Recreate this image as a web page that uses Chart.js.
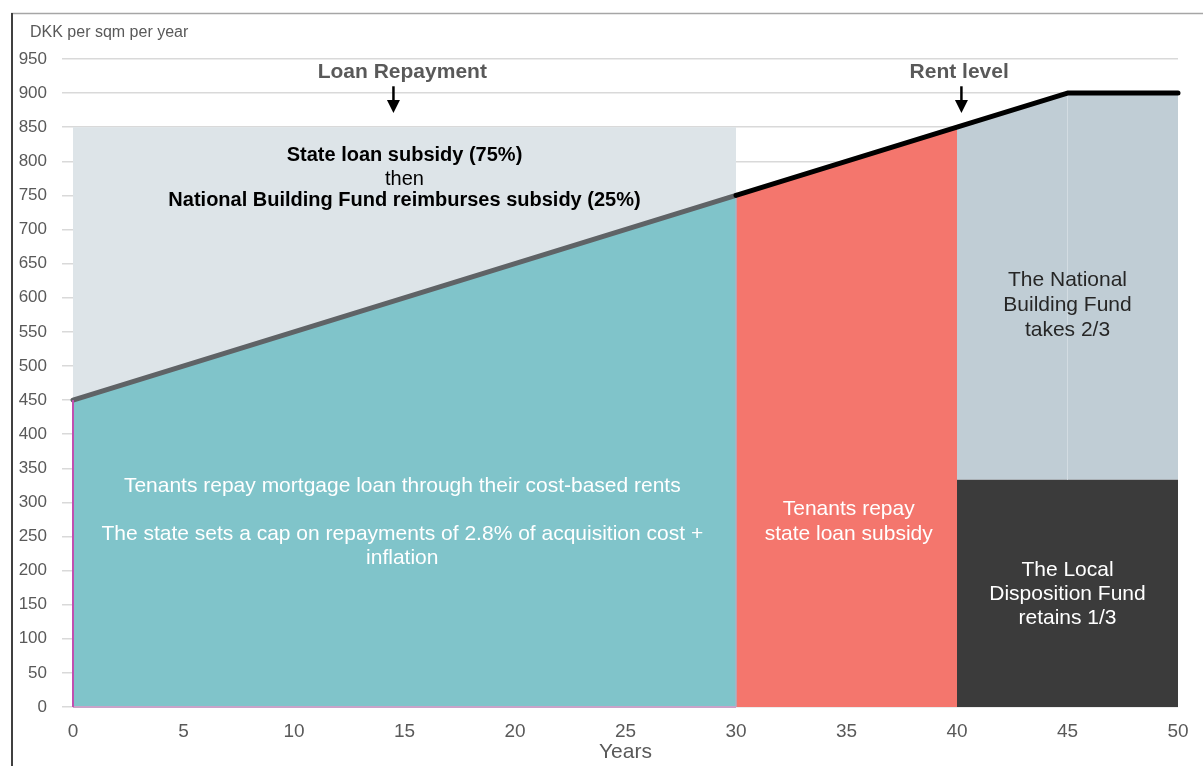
<!DOCTYPE html>
<html>
<head>
<meta charset="utf-8">
<script src="https://cdn.jsdelivr.net/npm/chart.js@4"></script>
<style>
  html, body { margin: 0; padding: 0; background: #fff; }
  #wrap { width: 1203px; height: 766px; position: relative; }
</style>
</head>
<body>
<div id="wrap"><canvas id="chart" width="1203" height="766"></canvas></div>
<script>
// data
const loanYears = [0, 30];
const loanRepayment = [450, 750];
const rentYears = [30, 40, 45, 50];
const rentLevel = [750, 850, 900, 900];
const subsidyYears = [0, 30];
const subsidyLevel = [850, 850];
const stateRepayYears = [30, 40];
const stateRepay = [750, 850];
const fundYears = [40, 45, 50];
const fundLevel = [850, 900, 900];
const localYears = [40, 50];
const localShare = [333, 333];
const yMin = 0, yMax = 950, yStep = 50;
const xMin = 0, xMax = 50, xStep = 5;

const pts = (xs, ys) => xs.map((x, i) => ({ x: x, y: ys[i] }));
const FONT = "'Liberation Sans', Arial, sans-serif";

const labels = [
  { x: 14.9, y: 931, text: 'Loan Repayment', font: 'bold 21px', color: '#595959' },
  { x: 40.1, y: 931, text: 'Rent level', font: 'bold 21px', color: '#595959' },
  { x: 15, y: 808, text: 'State loan subsidy (75%)', font: 'bold 20px', color: '#000' },
  { x: 15, y: 774, text: 'then', font: '20px', color: '#000' },
  { x: 15, y: 742, text: 'National Building Fund reimburses subsidy (25%)', font: 'bold 20px', color: '#000' },
  { x: 14.9, y: 324, text: 'Tenants repay mortgage loan through their cost-based rents', font: '21px', color: '#fff' },
  { x: 14.9, y: 254, text: 'The state sets a cap on repayments of 2.8% of acquisition cost +', font: '21px', color: '#fff' },
  { x: 14.9, y: 218, text: 'inflation', font: '21px', color: '#fff' },
  { x: 35.1, y: 290, text: 'Tenants repay', font: '21px', color: '#fff' },
  { x: 35.1, y: 254, text: 'state loan subsidy', font: '21px', color: '#fff' },
  { x: 45, y: 625, text: 'The National', font: '21px', color: '#262626' },
  { x: 45, y: 589, text: 'Building Fund', font: '21px', color: '#262626' },
  { x: 45, y: 553, text: 'takes 2/3', font: '21px', color: '#262626' },
  { x: 45, y: 201, text: 'The Local', font: '21px', color: '#fff' },
  { x: 45, y: 166, text: 'Disposition Fund', font: '21px', color: '#fff' },
  { x: 45, y: 130, text: 'retains 1/3', font: '21px', color: '#fff' }
];
const arrows = [
  { x: 14.5, from: 910, to: 871 },
  { x: 40.2, from: 910, to: 871 }
];

const overlay = {
  id: 'overlay',
  beforeDraw(chart) {
    const ctx = chart.ctx;
    ctx.save();
    ctx.strokeStyle = '#a6a6a6';
    ctx.lineWidth = 1.5;
    ctx.beginPath();
    ctx.moveTo(11, 13.5);
    ctx.lineTo(1203, 13.5);
    ctx.stroke();
    ctx.strokeStyle = '#404040';
    ctx.lineWidth = 2;
    ctx.beginPath();
    ctx.moveTo(12, 13);
    ctx.lineTo(12, 766);
    ctx.stroke();
    ctx.fillStyle = '#595959';
    ctx.font = '16px ' + FONT;
    ctx.textAlign = 'left';
    ctx.textBaseline = 'middle';
    ctx.fillText('DKK per sqm per year', 30, 33);
    ctx.restore();
  },
  afterDatasetsDraw(chart) {
    const ctx = chart.ctx;
    const xs = chart.scales.x, ys = chart.scales.y;
    ctx.save();
    ctx.textAlign = 'center';
    ctx.textBaseline = 'middle';
    labels.forEach(l => {
      ctx.font = l.font + ' ' + FONT;
      ctx.fillStyle = l.color;
      ctx.fillText(l.text, xs.getPixelForValue(l.x), ys.getPixelForValue(l.y));
    });
    arrows.forEach(a => {
      const px = xs.getPixelForValue(a.x);
      const y1 = ys.getPixelForValue(a.from), y2 = ys.getPixelForValue(a.to);
      ctx.strokeStyle = '#000';
      ctx.fillStyle = '#000';
      ctx.lineWidth = 2.5;
      ctx.beginPath();
      ctx.moveTo(px, y1);
      ctx.lineTo(px, y2 - 10);
      ctx.stroke();
      ctx.beginPath();
      ctx.moveTo(px - 6.5, y2 - 13);
      ctx.lineTo(px + 6.5, y2 - 13);
      ctx.lineTo(px, y2);
      ctx.closePath();
      ctx.fill();
    });
    ctx.restore();
  }
};

const line = (data, color, width, order, extra) => Object.assign({
  data: data,
  borderColor: color,
  borderWidth: width,
  pointRadius: 0,
  fill: false,
  order: order,
  clip: false,
  borderCapStyle: 'round',
  borderJoinStyle: 'round'
}, extra || {});

new Chart(document.getElementById('chart'), {
  type: 'line',
  data: {
    datasets: [
      line(pts(subsidyYears, subsidyLevel), 'rgba(0,0,0,0)', 0, 20,
        { fill: 'origin', backgroundColor: '#dde4e8' }),
      line(pts(loanYears, loanRepayment), '#5f6366', 5, 16,
        { fill: 'origin', backgroundColor: '#80c4ca' }),
      line(pts(stateRepayYears, stateRepay), 'rgba(0,0,0,0)', 0, 15,
        { fill: 'origin', backgroundColor: '#f4766d' }),
      line(pts(fundYears, fundLevel), 'rgba(0,0,0,0)', 0, 14,
        { fill: { value: localShare[0] }, backgroundColor: '#c0cdd5' }),
      line(pts(localYears, localShare), 'rgba(0,0,0,0)', 0, 13,
        { fill: 'origin', backgroundColor: '#3b3b3b' }),
      line(pts([45, 45], [localShare[0], fundLevel[1]]), '#d3dce2', 1, 12, { borderCapStyle: 'butt' }),
      line(pts([30, 30], [0, loanRepayment[1]]), '#a9b3c6', 1.5, 11, { borderCapStyle: 'butt' }),
      line(pts(loanYears, [0, 0]), '#c9a3c9', 2, 10, { borderCapStyle: 'butt' }),
      line(pts([0, 0], [0, loanRepayment[0]]), '#c04fb0', 2, 9, { borderCapStyle: 'butt' }),
      line(pts(rentYears, rentLevel), '#000', 5, 1)
    ]
  },
  options: {
    responsive: false,
    animation: false,
    devicePixelRatio: 1,
    layout: { padding: { top: 59, right: 25, bottom: 0, left: 0 } },
    plugins: { legend: { display: false }, tooltip: { enabled: false } },
    scales: {
      x: {
        type: 'linear',
        min: xMin, max: xMax,
        ticks: { stepSize: xStep, color: '#595959', font: { family: FONT, size: 19 }, padding: 13 },
        grid: { display: false, drawTicks: false },
        border: { display: false },
        title: { display: true, text: 'Years', color: '#595959', font: { family: FONT, size: 21 }, padding: { top: 0, bottom: 1 } },
        afterFit: s => { s.height = 59; }
      },
      y: {
        min: yMin, max: yMax,
        ticks: { stepSize: yStep, color: '#595959', font: { family: FONT, size: 17 }, padding: 15 },
        grid: { color: '#d9d9d9', lineWidth: 1.5, tickLength: 11 },
        border: { display: false },
        afterFit: s => { s.width = 73; }
      }
    }
  },
  plugins: [overlay]
});
</script>
</body>
</html>
